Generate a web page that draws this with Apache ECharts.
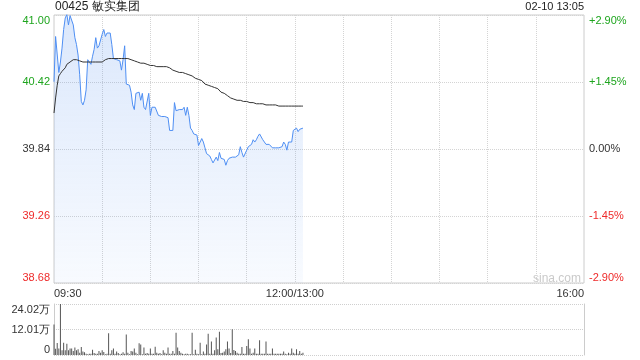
<!DOCTYPE html>
<html><head><meta charset="utf-8">
<script src="https://cdn.jsdelivr.net/npm/echarts@6/dist/echarts.min.js"></script>
<style>html,body{margin:0;padding:0;background:#fff}#c{width:640px;height:360px}</style>
</head><body><div id="c"></div>
<script>
const titleText = '00425 敏实集团';
const dateText = '02-10 13:05';
const prevClose = 39.84;
const priceTickLabels = ['41.00', '40.42', '39.84', '39.26', '38.68'];   // top -> bottom
const pctTickLabels = ['+2.90%', '+1.45%', '0.00%', '-1.45%', '-2.90%']; // top -> bottom
const volTickLabels = ['0', '12.01万', '24.02万'];                        // bottom -> top
const prices = [
  40.42, 40.81, 40.81, 40.50, 40.59, 40.71, 40.87, 40.97, 41.00, 40.91,
  40.99, 40.98, 40.91, 40.80, 40.74, 40.65, 40.48, 40.25, 40.22, 40.26,
  40.35, 40.61, 40.59, 40.57, 40.64, 40.70, 40.80, 40.71, 40.73, 40.78,
  40.83, 40.87, 40.81, 40.84, 40.84, 40.84, 40.74, 40.62, 40.61, 40.61,
  40.61, 40.60, 40.52, 40.61, 40.73, 40.40, 40.40, 40.39, 40.33, 40.22,
  40.18, 40.32, 40.33, 40.33, 40.26, 40.32, 40.20, 40.18, 40.18, 40.32,
  40.13, 40.20, 40.20, 40.20, 40.20, 40.13, 40.12, 40.12, 40.12, 40.12,
  40.12, 40.11, 40.00, 40.00, 40.00, 40.24, 40.17, 40.18, 40.18, 40.18,
  40.18, 40.20, 40.13, 40.20, 40.13, 40.02, 40.00, 39.97, 39.97, 39.96,
  39.87, 39.90, 39.93, 39.90, 39.85, 39.80, 39.79, 39.78, 39.75, 39.72,
  39.72, 39.77, 39.74, 39.81, 39.76, 39.76, 39.75, 39.70, 39.74, 39.76,
  39.76, 39.77, 39.77, 39.77, 39.77, 39.79, 39.86, 39.81, 39.77, 39.77,
  39.83, 39.86, 39.85, 39.88, 39.92, 39.90, 39.92, 39.95, 39.97, 39.98,
  39.92, 39.90, 39.88, 39.87, 39.88, 39.89, 39.85, 39.85, 39.85, 39.85,
  39.85, 39.85, 39.86, 39.90, 39.88, 39.83, 39.90, 39.90, 39.90, 40.00,
  40.00, 40.02, 39.99, 40.01, 40.02, 40.02
];
const avgPrices = [
  40.15, 40.28, 40.39, 40.47, 40.49, 40.51, 40.52, 40.54, 40.57, 40.58,
  40.59, 40.60, 40.61, 40.61, 40.61, 40.60, 40.60, 40.59, 40.59, 40.59,
  40.59, 40.59, 40.59, 40.59, 40.59, 40.59, 40.59, 40.59, 40.59, 40.59,
  40.59, 40.60, 40.61, 40.62, 40.62, 40.62, 40.62, 40.62, 40.62, 40.62,
  40.62, 40.62, 40.62, 40.62, 40.62, 40.62, 40.62, 40.61, 40.61, 40.61,
  40.60, 40.60, 40.59, 40.59, 40.58, 40.58, 40.58, 40.57, 40.57, 40.57,
  40.56, 40.56, 40.56, 40.56, 40.55, 40.55, 40.55, 40.55, 40.55, 40.55,
  40.55, 40.54, 40.54, 40.53, 40.52, 40.51, 40.51, 40.50, 40.50, 40.50,
  40.50, 40.49, 40.49, 40.49, 40.48, 40.47, 40.47, 40.46, 40.45, 40.45,
  40.44, 40.44, 40.43, 40.42, 40.40, 40.40, 40.39, 40.39, 40.38, 40.38,
  40.37, 40.37, 40.36, 40.35, 40.33, 40.33, 40.32, 40.31, 40.30, 40.29,
  40.28, 40.27, 40.27, 40.27, 40.26, 40.26, 40.26, 40.26, 40.25, 40.25,
  40.25, 40.24, 40.24, 40.24, 40.24, 40.23, 40.23, 40.23, 40.23, 40.23,
  40.23, 40.22, 40.22, 40.22, 40.22, 40.22, 40.22, 40.22, 40.22, 40.22,
  40.21, 40.21, 40.21, 40.21, 40.21, 40.21, 40.21, 40.21, 40.21, 40.21,
  40.21, 40.21, 40.21, 40.21, 40.21, 40.21
];
const volumes = [ // 万股
  14.4, 3.0, 5.7, 3.1, 24.0, 2.2, 5.8, 2.2, 5.3, 2.2,
  3.1, 3.1, 1.9, 3.5, 2.2, 2.7, 1.1, 3.8, 1.6, 1.3,
  0.6, 0.3, 0.6, 0.6, 2.5, 0.9, 0.6, 0.6, 1.9, 1.1,
  2.2, 1.4, 0.3, 0.6, 10.2, 0.6, 2.2, 3.1, 0.6, 1.6,
  0.9, 0.3, 0.6, 1.3, 0.6, 9.7, 1.1, 0.3, 1.9, 1.6,
  3.1, 1.1, 0.3, 5.5, 5.0, 0.3, 3.5, 0.6, 0.9, 0.6,
  3.1, 0.6, 0.6, 3.9, 1.1, 0.6, 0.9, 0.3, 2.2, 1.1,
  0.6, 3.5, 0.6, 0.6, 1.9, 0.6, 10.5, 3.5, 1.9, 1.1,
  0.6, 0.3, 0.6, 0.6, 0.3, 0.3, 10.5, 0.3, 2.5, 0.6,
  0.3, 5.8, 0.3, 1.6, 0.6, 5.0, 10.0, 0.6, 6.3, 0.6,
  2.2, 8.2, 2.7, 11.0, 0.9, 1.1, 1.6, 2.7, 6.3, 3.1,
  1.0, 12.1, 2.4, 1.9, 1.1, 0.6, 0.6, 3.8, 0.6, 0.6,
  4.2, 7.4, 3.1, 0.6, 1.1, 3.1, 0.6, 0.6, 6.9, 0.6,
  0.6, 0.6, 6.3, 0.6, 0.6, 0.6, 3.1, 0.6, 0.6, 0.6,
  0.6, 0.6, 0.6, 1.6, 0.6, 0.3, 1.1, 0.6, 3.1, 1.1,
  0.6, 2.7, 0.6, 1.9, 0.6, 1.1
];

// time categories: 09:30..12:00 / 13:00 ..16:00  (331 slots)
function hm(t){const h=Math.floor(t/60),m=t%60;return (h<10?'0':'')+h+':'+(m<10?'0':'')+m;}
const times = [];
for (let t = 570; t <= 720; t++) times.push(hm(t));
times[150] = '12:00/13:00';
for (let t = 781; t <= 960; t++) times.push(hm(t));
const labelIdx = [0, 150, 330];

const toPct = p => (p / prevClose - 1) * 100;
const FONT = 'Liberation Sans, Arial, sans-serif';
const GREEN = '#1ea51e', RED = '#ee2a2a', DARK = '#333';
function colorFor(v){ return v > 0.0001 ? GREEN : (v < -0.0001 ? RED : DARK); }
function tickIdx(v){ return Math.round((2.9 - v) / 1.45); }

const chart = echarts.init(document.getElementById('c'), null, {renderer: 'canvas'});
chart.setOption({
  animation: false,
  textStyle: {fontFamily: FONT},
  grid: [
    {left: 54, right: 56, top: 15, height: 268, show: true, borderColor: '#ccc', borderWidth: 1},
    {left: 54, right: 56, top: 304, height: 51}
  ],
  xAxis: [
    {type: 'category', gridIndex: 0, data: times, boundaryGap: false,
     axisLine: {show: false}, axisTick: {show: false},
     axisLabel: {interval: (i) => labelIdx.indexOf(i) >= 0, color: DARK, fontSize: 11, margin: 5,
                 fontFamily: FONT, alignMinLabel: 'left', alignMaxLabel: 'right'},
     splitLine: {show: true, interval: (i) => i % 30 === 0 && i > 0 && i < 330,
                 lineStyle: {color: '#d4d4d4', type: 'dotted', width: 1}}},
    {type: 'category', gridIndex: 1, data: times, boundaryGap: false,
     axisLine: {show: false}, axisTick: {show: false}, axisLabel: {show: false}, splitLine: {show: false}}
  ],
  yAxis: [
    {type: 'value', gridIndex: 0, position: 'left', min: -2.9, max: 2.9, interval: 1.45,
     axisLine: {show: false}, axisTick: {show: false},
     axisLabel: {fontSize: 11, margin: 4, fontFamily: FONT,
                 formatter: (v) => priceTickLabels[tickIdx(v)],
                 color: (v) => colorFor(+v),
                 verticalAlignMaxLabel: 'top', verticalAlignMinLabel: 'bottom'},
     splitLine: {show: true, lineStyle: {color: '#d4d4d4', type: 'dotted'}}},
    {type: 'value', gridIndex: 0, position: 'right', min: -2.9, max: 2.9, interval: 1.45,
     axisLine: {show: false}, axisTick: {show: false},
     axisLabel: {fontSize: 11, margin: 5, fontFamily: FONT,
                 formatter: (v) => pctTickLabels[tickIdx(v)],
                 color: (v) => colorFor(+v),
                 verticalAlignMaxLabel: 'top', verticalAlignMinLabel: 'bottom'},
     splitLine: {show: false}},
    {type: 'value', gridIndex: 1, position: 'left', min: 0, max: 24.02, interval: 12.01,
     axisLine: {show: true, lineStyle: {color: '#ccc'}}, axisTick: {show: false},
     axisLabel: {fontSize: 11, margin: 4, color: DARK, fontFamily: FONT,
                 formatter: (v, i) => volTickLabels[i],
                 verticalAlignMaxLabel: 'top', verticalAlignMinLabel: 'bottom'},
     splitLine: {show: true, lineStyle: {color: '#cfcfcf', type: 'dotted', width: 1}}},
    {type: 'value', gridIndex: 1, position: 'right', min: 0, max: 24.02, interval: 12.01,
     axisLine: {show: true, lineStyle: {color: '#ccc'}}, axisTick: {show: false},
     axisLabel: {show: false}, splitLine: {show: false}}
  ],
  series: [
    {type: 'line', xAxisIndex: 0, yAxisIndex: 0, data: prices.map(toPct), symbol: 'none',
     lineStyle: {color: '#4f8ff3', width: 1},
     areaStyle: {origin: 'start', color: new echarts.graphic.LinearGradient(0, 0, 0, 1, [
       {offset: 0, color: 'rgba(86,145,240,0.30)'}, {offset: 1, color: 'rgba(86,145,240,0.06)'}])},
     z: 3},
    {type: 'line', xAxisIndex: 0, yAxisIndex: 0, data: avgPrices.map(toPct), symbol: 'none',
     lineStyle: {color: '#333', width: 1}, z: 4},
    {type: 'bar', xAxisIndex: 1, yAxisIndex: 2, data: volumes, barWidth: 1,
     itemStyle: {color: '#555'}}
  ],
  graphic: [
    {type: 'text', left: 55, top: 1, style: {text: titleText, font: '12px ' + FONT, fill: '#222'}},
    {type: 'text', right: 56, top: 1, style: {text: dateText, font: '11px ' + FONT, fill: '#222'}},
    {type: 'text', left: 533, top: 273, style: {text: 'sina.com', font: '12px ' + FONT, fill: '#cacaca'}}
  ]
});
</script></body></html>
